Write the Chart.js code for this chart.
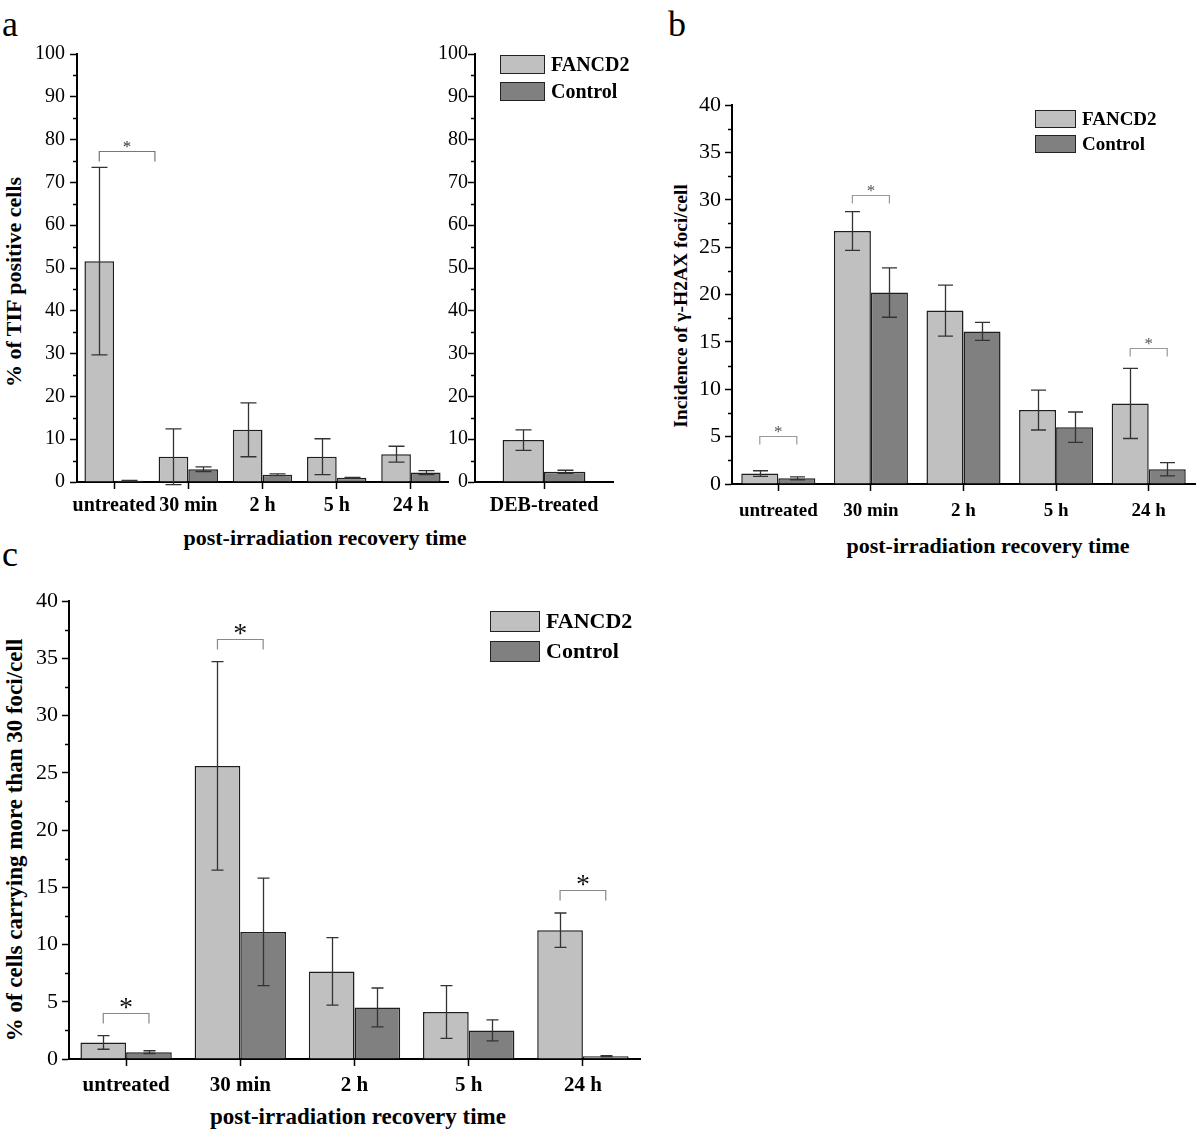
<!DOCTYPE html>
<html>
<head>
<meta charset="utf-8">
<title>FANCD2 - TIF and γ-H2AX foci after irradiation</title>
<script src="https://cdn.jsdelivr.net/npm/chart.js@4.4.1/dist/chart.umd.min.js"></script>
<style>
  body { margin: 0; background: #fff; }
  #figure { position: relative; width: 1200px; height: 1130px; font-family: 'Liberation Serif', 'Times New Roman', serif; color: #000; }
  #figure canvas { position: absolute; }
  .panel-letter { position: absolute; font-size: 36px; line-height: 1; }
  .axis-title { position: absolute; font-weight: bold; white-space: nowrap; transform: translate(-50%, -50%); }
  .axis-title.vertical { transform: translate(-50%, -50%) rotate(-90deg); }
  .legend { position: absolute; font-weight: bold; }
  .legend-row { display: flex; align-items: center; }
  .legend-box { border: 1.5px solid #222; box-sizing: border-box; margin-right: 6px; }
</style>
</head>
<body>
<div id="figure">
  <div class="panel-letter" style="left:2px;top:6px">a</div>
  <div class="panel-letter" style="left:668px;top:6px">b</div>
  <div class="panel-letter" style="left:2px;top:536px">c</div>

  <div class="axis-title vertical" style="left:14px;top:282px;font-size:22px">% of TIF positive cells</div>
  <div class="axis-title" style="left:325px;top:538px;font-size:22px">post-irradiation recovery time</div>
  <div class="axis-title vertical" style="left:681px;top:306px;font-size:19.5px">Incidence of γ-H2AX foci/cell</div>
  <div class="axis-title" style="left:988px;top:546px;font-size:22px">post-irradiation recovery time</div>
  <div class="axis-title vertical" style="left:15px;top:840px;font-size:23px">% of cells carrying more than 30 foci/cell</div>
  <div class="axis-title" style="left:358px;top:1117px;font-size:23px">post-irradiation recovery time</div>
</div>

<script>
// Data (mean and error half-width)
const timePoints = ['untreated', '30 min', '2 h', '5 h', '24 h'];
const debLabels = ['DEB-treated'];

// panel a - % of TIF positive cells
const tifFancd2 = [51.6, 5.9, 12.2, 5.9, 6.5];
const tifFancd2Err = [21.9, 6.5, 6.3, 4.2, 1.85];
const tifControl = [0.3, 3.0, 1.7, 1.0, 2.2];
const tifControlErr = [0.1, 0.55, 0.2, 0.1, 0.45];
const debFancd2 = [9.8];
const debFancd2Err = [2.4];
const debControl = [2.4];
const debControlErr = [0.35];

// panel b - gamma-H2AX foci per cell
const h2axFancd2 = [1.1, 26.7, 18.3, 7.8, 8.5];
const h2axFancd2Err = [0.3, 2.05, 2.7, 2.1, 3.7];
const h2axControl = [0.6, 20.2, 16.1, 6.0, 1.55];
const h2axControlErr = [0.15, 2.6, 0.95, 1.6, 0.7];

// panel c - % of cells with more than 30 foci
const fociFancd2 = [1.45, 25.6, 7.65, 4.1, 11.25];
const fociFancd2Err = [0.6, 9.1, 2.95, 2.3, 1.5];
const fociControl = [0.6, 11.1, 4.5, 2.5, 0.25];
const fociControlErr = [0.12, 4.7, 1.7, 0.92, 0.05];

// significance brackets: [from category, to category, level]
const sigTif = [[-0.2, 0.55, 77.4]];
const sigH2ax = [[-0.2, 0.2, 5.1], [0.8, 1.2, 30.5], [3.8, 4.2, 14.4]];
const sigFoci = [[-0.2, 0.2, 4.0], [0.8, 1.2, 36.7], [3.8, 4.2, 14.8]];

// y axis ticks: [max, major step, minor step]
const tifTicks = [100, 10, 5];
const h2axTicks = [40, 5, 2.5];
const fociTicks = [40, 5, 2.5];

const seriesNames = ['FANCD2', 'Control'];
const FONT = "'Liberation Serif', 'Times New Roman', serif";
const LIGHT = '#c0c0c0';
const DARK = '#808080';

// Error bars drawn through the y scale
const errorBarPlugin = {
    id: 'errorBars',
    afterDatasetsDraw(chart, args, opts) {
        const { ctx } = chart;
        const yScale = chart.scales.y;
        ctx.save();
        ctx.strokeStyle = opts.color;
        ctx.lineWidth = opts.width;
        chart.data.datasets.forEach((ds, i) => {
            chart.getDatasetMeta(i).data.forEach((bar, j) => {
                const v = ds.data[j];
                const e = ds.errors[j];
                const top = yScale.getPixelForValue(v + e);
                const bot = yScale.getPixelForValue(v - e);
                const x = Math.round(bar.x) + 0.5;
                const half = opts.cap / 2;
                ctx.beginPath();
                ctx.moveTo(x, top); ctx.lineTo(x, bot);
                ctx.moveTo(x - half, top); ctx.lineTo(x + half, top);
                ctx.moveTo(x - half, bot); ctx.lineTo(x + half, bot);
                ctx.stroke();
            });
        });
        ctx.restore();
    }
};

// Significance brackets with asterisk
const bracketPlugin = {
    id: 'sigBrackets',
    afterDatasetsDraw(chart, args, opts) {
        const { ctx } = chart;
        const xScale = chart.scales.x;
        const yScale = chart.scales.y;
        ctx.save();
        (opts.items || []).forEach(([from, to, level]) => {
            const x0 = xScale.getPixelForValue(from);
            const x1 = xScale.getPixelForValue(to);
            const y = Math.round(yScale.getPixelForValue(level)) + 0.5;
            ctx.strokeStyle = opts.color;
            ctx.lineWidth = 1.2;
            ctx.beginPath();
            ctx.moveTo(x0, y + opts.drop);
            ctx.lineTo(x0, y);
            ctx.lineTo(x1, y);
            ctx.lineTo(x1, y + opts.drop);
            ctx.stroke();
            ctx.fillStyle = opts.starColor;
            ctx.font = opts.starSize + 'px ' + FONT;
            ctx.textAlign = 'center';
            ctx.textBaseline = 'alphabetic';
            ctx.fillText('*', (x0 + x1) / 2, y + opts.starLift);
        });
        ctx.restore();
    }
};

// Short minor ticks on the y axis
const minorTickPlugin = {
    id: 'minorTicks',
    afterDraw(chart, args, opts) {
        const { ctx, chartArea } = chart;
        const yScale = chart.scales.y;
        ctx.save();
        ctx.strokeStyle = '#000';
        ctx.lineWidth = 1.5;
        yScale.ticks.forEach(t => {
            if (t.value % opts.major === 0) return;
            const py = Math.round(yScale.getPixelForValue(t.value)) + 0.5;
            ctx.beginPath();
            ctx.moveTo(chartArea.left - 4, py);
            ctx.lineTo(chartArea.left, py);
            ctx.stroke();
        });
        ctx.restore();
    }
};

function buildPanel(cfg) {
    const canvas = document.createElement('canvas');
    canvas.width = cfg.box.w;
    canvas.height = cfg.box.h;
    canvas.style.left = cfg.box.x + 'px';
    canvas.style.top = cfg.box.y + 'px';
    document.getElementById('figure').appendChild(canvas);

    const area = cfg.area;
    const [yMax, major, minor] = cfg.ticks;

    return new Chart(canvas, {
        type: 'bar',
        data: {
            labels: cfg.labels,
            datasets: cfg.series.map((s, i) => ({
                label: seriesNames[i],
                data: s.values,
                errors: s.errors,
                backgroundColor: i === 0 ? LIGHT : DARK,
                borderColor: '#1e1e1e',
                borderWidth: 1.5,
                categoryPercentage: cfg.catPct,
                barPercentage: 1
            }))
        },
        options: {
            responsive: false,
            animation: false,
            events: [],
            layout: {
                padding: {
                    left: 0,
                    bottom: 0,
                    top: area.t - cfg.box.y,
                    right: cfg.box.x + cfg.box.w - area.r
                }
            },
            plugins: {
                legend: { display: false },
                tooltip: { enabled: false },
                errorBars: { color: '#333', width: 1.3, cap: cfg.cap },
                sigBrackets: Object.assign({ items: cfg.brackets || [] }, cfg.bracketStyle),
                minorTicks: { major: major }
            },
            scales: {
                x: {
                    grid: { offset: false, drawOnChartArea: false, tickLength: 7, tickWidth: 1.5, tickColor: '#000' },
                    border: { color: '#000', width: 2 },
                    ticks: {
                        color: '#000',
                        padding: cfg.xPad,
                        autoSkip: false,
                        maxRotation: 0,
                        font: { family: FONT, size: cfg.xFont, weight: 'bold' }
                    },
                    afterFit: s => { s.height = cfg.box.y + cfg.box.h - area.b; }
                },
                y: {
                    min: 0,
                    max: yMax,
                    grid: {
                        drawOnChartArea: false,
                        tickLength: 7,
                        tickWidth: 1.5,
                        tickColor: c => (c.tick && c.tick.value % major === 0) ? '#000' : 'rgba(0,0,0,0)'
                    },
                    border: { color: '#000', width: 2 },
                    ticks: {
                        stepSize: minor,
                        autoSkip: false,
                        color: '#000',
                        padding: cfg.yPad,
                        font: { family: FONT, size: cfg.yFont },
                        callback: v => (v % major === 0 ? v : '')
                    },
                    afterFit: s => { s.width = area.l - cfg.box.x; }
                }
            }
        },
        plugins: [errorBarPlugin, bracketPlugin, minorTickPlugin]
    });
}

// HTML legend built from the chart datasets
function buildLegend(chart, pos) {
    const legend = document.createElement('div');
    legend.className = 'legend';
    legend.style.left = pos.x + 'px';
    legend.style.top = pos.y + 'px';
    legend.style.fontSize = pos.font + 'px';
    chart.data.datasets.forEach(ds => {
        const row = document.createElement('div');
        row.className = 'legend-row';
        row.style.height = pos.pitch + 'px';
        const box = document.createElement('span');
        box.className = 'legend-box';
        box.style.width = pos.bw + 'px';
        box.style.height = pos.bh + 'px';
        box.style.background = ds.backgroundColor;
        const text = document.createElement('span');
        text.textContent = ds.label;
        row.appendChild(box);
        row.appendChild(text);
        legend.appendChild(row);
    });
    document.getElementById('figure').appendChild(legend);
}

document.addEventListener('DOMContentLoaded', function() {
    // Panel a, irradiation time course
    buildPanel({
        box: { x: 0, y: 0, w: 455, h: 530 },
        area: { l: 77, t: 54, r: 448, b: 482 },
        labels: timePoints,
        series: [
            { values: tifFancd2, errors: tifFancd2Err },
            { values: tifControl, errors: tifControlErr }
        ],
        ticks: tifTicks,
        catPct: 0.8, cap: 16, xFont: 20, yFont: 20, xPad: 5, yPad: 5,
        brackets: sigTif,
        bracketStyle: { color: '#777', drop: 10, starSize: 17, starLift: 0, starColor: '#333' }
    });

    // Panel a, DEB-treated
    const chartDeb = buildPanel({
        box: { x: 430, y: 0, w: 210, h: 530 },
        area: { l: 475, t: 54, r: 613, b: 482 },
        labels: debLabels,
        series: [
            { values: debFancd2, errors: debFancd2Err },
            { values: debControl, errors: debControlErr }
        ],
        ticks: tifTicks,
        catPct: 0.6, cap: 16, xFont: 20, yFont: 20, xPad: 5, yPad: 0
    });
    buildLegend(chartDeb, { x: 500, y: 51, font: 20, pitch: 27, bw: 45, bh: 19 });

    // Panel b
    const chartB = buildPanel({
        box: { x: 660, y: 60, w: 540, h: 490 },
        area: { l: 732, t: 105, r: 1195, b: 484 },
        labels: timePoints,
        series: [
            { values: h2axFancd2, errors: h2axFancd2Err },
            { values: h2axControl, errors: h2axControlErr }
        ],
        ticks: h2axTicks,
        catPct: 0.8, cap: 15, xFont: 19, yFont: 22, xPad: 9, yPad: 4,
        brackets: sigH2ax,
        bracketStyle: { color: '#999', drop: 8, starSize: 17, starLift: 0, starColor: '#555' }
    });
    buildLegend(chartB, { x: 1035, y: 106, font: 19, pitch: 25, bw: 41, bh: 18 });

    // Panel c
    const chartC = buildPanel({
        box: { x: 0, y: 570, w: 660, h: 560 },
        area: { l: 69, t: 601, r: 640, b: 1059 },
        labels: timePoints,
        series: [
            { values: fociFancd2, errors: fociFancd2Err },
            { values: fociControl, errors: fociControlErr }
        ],
        ticks: fociTicks,
        catPct: 0.8, cap: 12, xFont: 21, yFont: 22, xPad: 7, yPad: 4,
        brackets: sigFoci,
        bracketStyle: { color: '#888', drop: 10, starSize: 28, starLift: 2, starColor: '#111' }
    });
    buildLegend(chartC, { x: 490, y: 606, font: 22, pitch: 30, bw: 50, bh: 21 });
});
</script>
</body>
</html>
